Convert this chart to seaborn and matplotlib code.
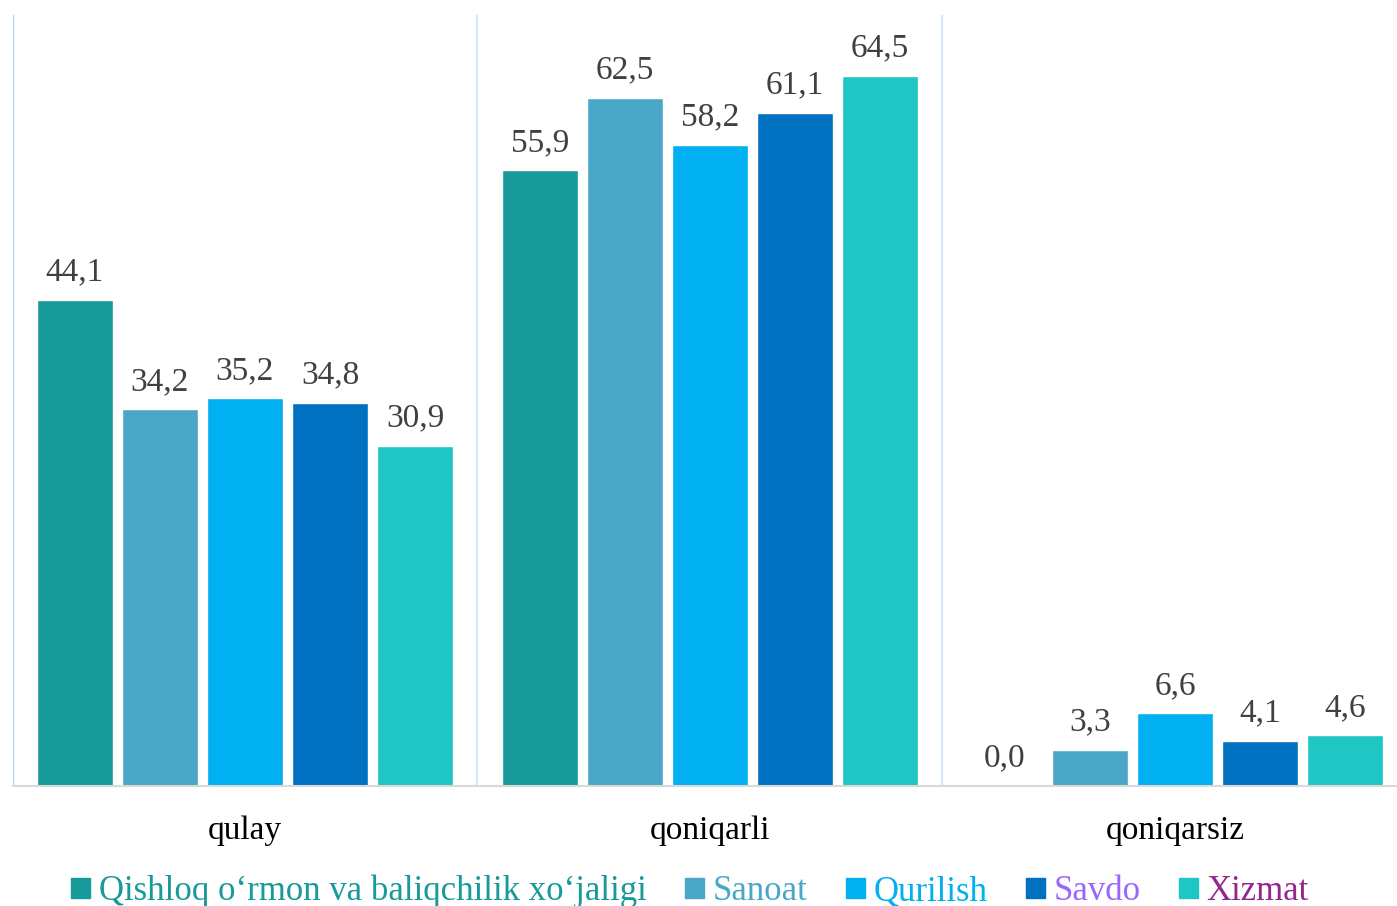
import pandas as pd
import numpy as np
import matplotlib.pyplot as plt
import seaborn as sns

# survey answers by sector, percent
categories = ['qulay', 'qoniqarli', 'qoniqarsiz']
sectors = ['Qishloq o‘rmon va baliqchilik xo‘jaligi', 'Sanoat', 'Qurilish', 'Savdo', 'Xizmat']
qishloq = [44.1, 55.9, 0.0]
sanoat = [34.2, 62.5, 3.3]
qurilish = [35.2, 58.2, 6.6]
savdo = [34.8, 61.1, 4.1]
xizmat = [30.9, 64.5, 4.6]

bar_colors = ['#179A99', '#4BA7C8', '#00B0F0', '#0070C0', '#1EC6C4']
text_colors = ['#179A99', '#4BA7C8', '#00B0F0', '#9966FF', '#92278F']

rows = []
for name, vals in zip(sectors, [qishloq, sanoat, qurilish, savdo, xizmat]):
    for c, v in zip(categories, vals):
        rows.append({'cat': c, 'sector': name, 'val': v})
df = pd.DataFrame(rows)

sns.set_style('white')
plt.rcParams['font.family'] = ['Liberation Serif', 'DejaVu Serif']

fig = plt.figure(figsize=(13.97, 9.06), dpi=100)
ax = fig.add_axes([12.5 / 1397, 120 / 906, 1395 / 1397, 771 / 906])

sns.barplot(data=df, x='cat', y='val', hue='sector', palette=bar_colors,
            width=0.914, gap=0.106, saturation=1, ax=ax, legend=False)

for cont, vals in zip(ax.containers, [qishloq, sanoat, qurilish, savdo, xizmat]):
    ax.bar_label(cont, labels=[f'{v:.1f}'.replace('.', ',') for v in vals],
                 padding=9, fontsize=24, color='#404040')

ax.set_ylim(0, 70)
ax.set_xlim(-0.5, 2.5)
ax.set_xlabel('')
ax.set_ylabel('')
ax.set_yticks([])
ax.tick_params(axis='x', length=0, pad=21, labelsize=24, labelcolor='black')

for x in [-0.5, 0.5, 1.5, 2.5]:
    ax.axvline(x, color='#D6E6F8', lw=1.5, zorder=0)
ax.axvline(-0.5, color='#A9CDF2', lw=1.5, zorder=0)

for s in ['top', 'right', 'left']:
    ax.spines[s].set_visible(False)
ax.spines['bottom'].set_color('#D9D9D9')
ax.spines['bottom'].set_linewidth(1.5)

handles = [plt.Rectangle((0, 0), 1, 1, color=c) for c in bar_colors]
leg = fig.legend(handles, sectors, loc='center', bbox_to_anchor=(0.494, 0.016),
                 ncol=5, frameon=False, fontsize=25, handlelength=0.55, handleheight=0.55,
                 handletextpad=0.25, columnspacing=1.1)
for t, c in zip(leg.get_texts(), text_colors):
    t.set_color(c)

fig.savefig('out.png', dpi=100)
